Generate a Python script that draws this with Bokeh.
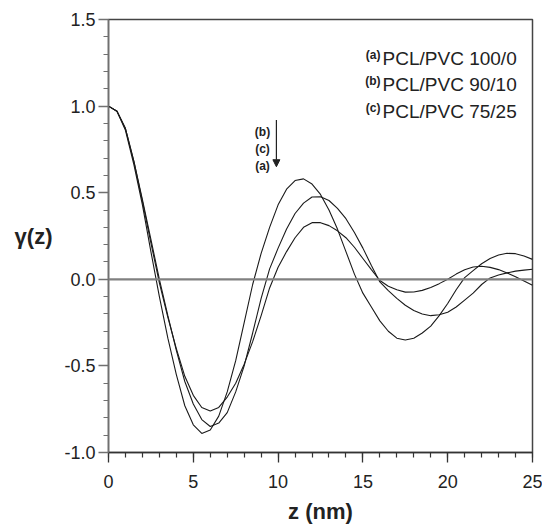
from bokeh.plotting import figure
from bokeh.models import Span, Label, Arrow, NormalHead, FixedTicker, Range1d, PrintfTickFormatter
from bokeh.embed import file_html
from bokeh.resources import INLINE

# ---- data ----
z_nm = [0.0, 0.5, 1.0, 1.5, 2.0, 2.5, 3.0, 3.5, 4.0, 4.5, 5.0, 5.5, 6.0, 6.5, 7.0, 7.5,
        8.0, 8.5, 9.0, 9.5, 10.0, 10.5, 11.0, 11.5, 12.0, 12.5, 13.0, 13.5, 14.0, 14.5,
        15.0, 15.5, 16.0, 16.5, 17.0, 17.5, 18.0, 18.5, 19.0, 19.5, 20.0, 20.5, 21.0,
        21.5, 22.0, 22.5, 23.0, 23.5, 24.0, 24.5, 25.0]

# (b) PCL/PVC 90/10
gamma_b = [1.00, 0.97, 0.86, 0.66, 0.43, 0.16, -0.10, -0.34, -0.55, -0.73, -0.84, -0.89,
           -0.87, -0.79, -0.65, -0.47, -0.25, -0.03, 0.15, 0.30, 0.43, 0.52, 0.57, 0.58,
           0.55, 0.49, 0.40, 0.29, 0.16, 0.03, -0.08, -0.16, -0.24, -0.30, -0.34, -0.35,
           -0.34, -0.31, -0.27, -0.21, -0.14, -0.06, 0.01, 0.05, 0.09, 0.12, 0.14, 0.15,
           0.148, 0.135, 0.115]

# (c) PCL/PVC 75/25
gamma_c = [1.00, 0.97, 0.87, 0.68, 0.46, 0.23, 0.00, -0.21, -0.41, -0.59, -0.72, -0.81,
           -0.85, -0.83, -0.77, -0.65, -0.50, -0.31, -0.11, 0.06, 0.18, 0.29, 0.38, 0.44,
           0.475, 0.477, 0.455, 0.41, 0.35, 0.27, 0.18, 0.08, -0.015, -0.065, -0.11, -0.15,
           -0.18, -0.20, -0.21, -0.205, -0.19, -0.16, -0.12, -0.08, -0.03, 0.008, 0.025,
           0.037, 0.047, 0.053, 0.058]

# (a) PCL/PVC 100/0
gamma_a = [1.00, 0.97, 0.87, 0.68, 0.45, 0.21, -0.02, -0.22, -0.40, -0.56, -0.67, -0.74,
           -0.76, -0.74, -0.68, -0.60, -0.49, -0.36, -0.21, -0.05, 0.07, 0.16, 0.24, 0.30,
           0.327, 0.327, 0.31, 0.28, 0.24, 0.185, 0.12, 0.056, -0.007, -0.04, -0.06, -0.074,
           -0.073, -0.064, -0.047, -0.025, 0.0, 0.03, 0.055, 0.071, 0.075, 0.069, 0.056,
           0.037, 0.015, -0.01, -0.035]

legend_tags = ["(a)", "(b)", "(c)"]
legend_names = ["PCL/PVC 100/0", "PCL/PVC 90/10", "PCL/PVC 75/25"]
arrow_tags = ["(b)", "(c)", "(a)"]

x_major = [0, 5, 10, 15, 20, 25]
x_minor = list(range(0, 26))
y_major = [-1.0, -0.5, 0.0, 0.5, 1.0, 1.5]
y_minor = [round(-1.0 + 0.1 * i, 1) for i in range(26)]

FONT = "Liberation Sans"

p = figure(width=542, height=526, output_backend="svg", toolbar_location=None,
           x_range=Range1d(0, 25), y_range=Range1d(-1.0, 1.5),
           min_border_left=108, min_border_right=10, min_border_top=19, min_border_bottom=73)
p.xgrid.visible = False
p.ygrid.visible = False
p.background_fill_color = "white"
p.border_fill_color = "white"
p.outline_line_color = "#444444"
p.outline_line_width = 1.5

# zero line
p.add_layout(Span(location=0, dimension="width", line_color="#808080", line_width=2.2))

for ys in (gamma_b, gamma_c, gamma_a):
    p.line(z_nm, ys, line_color="#1a1a1a", line_width=1.1)

# axes
p.xaxis.ticker = FixedTicker(ticks=x_major, minor_ticks=x_minor)
p.yaxis.ticker = FixedTicker(ticks=y_major, minor_ticks=y_minor)
p.yaxis.formatter = PrintfTickFormatter(format="%.1f")
for ax, col in ((p.xaxis, "#333333"), (p.yaxis, "#707070")):
    ax.axis_line_color = col
    ax.axis_line_width = 1.5
    ax.major_tick_line_color = col
    ax.minor_tick_line_color = col
    ax.major_tick_line_width = 1.3
    ax.minor_tick_line_width = 1.2
    ax.major_tick_in = 0
    ax.major_tick_out = 10
    ax.minor_tick_in = 0
    ax.minor_tick_out = 5
    ax.major_label_text_font = FONT
    ax.major_label_text_font_size = "18px"
    ax.major_label_text_color = "#222222"
p.yaxis.major_label_standoff = 3
p.xaxis.major_label_standoff = 12
p.xaxis.axis_label = "z (nm)"
p.xaxis.axis_label_text_font = FONT
p.xaxis.axis_label_text_font_style = "bold"
p.xaxis.axis_label_text_font_size = "22px"
p.xaxis.axis_label_text_color = "#222222"
p.xaxis.axis_label_standoff = 8

# y axis title, horizontal
yax = p.yaxis[0]
yax.axis_label = "γ(z)"
yax.axis_label_text_font = FONT
yax.axis_label_text_font_style = "bold"
yax.axis_label_text_font_size = "22px"
yax.axis_label_text_color = "#222222"
yax.axis_label_standoff = 9
if "axis_label_orientation" in yax.properties():
    yax.axis_label_orientation = "horizontal"

# legend-like text block
legend_y = [1.277, 1.127, 0.971]
for tag, name, yy in zip(legend_tags, legend_names, legend_y):
    p.add_layout(Label(x=16.04, y=yy + 0.02, text=tag, text_font=FONT, text_font_style="bold",
                       text_font_size="12px", text_color="#222222", text_align="right",
                       text_baseline="alphabetic"))
    p.add_layout(Label(x=16.16, y=yy, text=name, text_font=FONT, text_font_size="19px",
                       text_color="#222222", text_align="left", text_baseline="alphabetic"))

# arrow with stacked tags
arrow_y = [0.85, 0.75, 0.653]
for tag, yy in zip(arrow_tags, arrow_y):
    p.add_layout(Label(x=9.08, y=yy, text=tag, text_font=FONT, text_font_style="bold",
                       text_font_size="12px", text_color="#222222", text_align="center",
                       text_baseline="middle"))
p.add_layout(Arrow(end=NormalHead(size=7, fill_color="#222222", line_color="#222222"),
                   x_start=9.9, y_start=0.92, x_end=9.9, y_end=0.65,
                   line_color="#222222", line_width=1.2))

open("out.html", "w").write(file_html(p, INLINE))
